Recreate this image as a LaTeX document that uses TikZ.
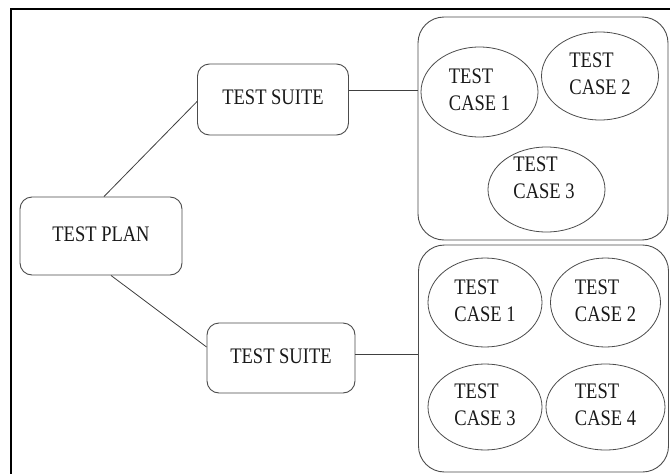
\documentclass[tikz,border=0pt]{standalone}
\usepackage{fontspec}
\usepackage{graphicx}
\setmainfont{Liberation Serif}
\usetikzlibrary{shapes.geometric}
\newcommand{\tx}[1]{\scalebox{1}[1.2]{\begin{tabular}{@{}l@{}}#1\end{tabular}}}
\begin{document}
\begin{tikzpicture}[x=1pt,y=-1pt,
  every node/.style={font=\fontsize{18.5}{22.5}\selectfont, text=black!90},
  boxs/.style={draw=black!70, line width=0.9pt, rounded corners=12pt, inner sep=0pt},
  grp/.style={draw=black!70, line width=0.9pt, rounded corners=26pt, inner sep=0pt},
  ell/.style={draw=black!70, line width=0.8pt, ellipse, inner sep=0pt},
  conn/.style={draw=black!75, line width=0.8pt}]
\useasboundingbox (0,0) rectangle (670,474);
\fill[white] (0,0) rectangle (670,474);
% frame
\draw[line width=2pt, black] (11,474) -- (11,9) -- (670,9);
% nodes
\node[boxs, minimum width=162pt, minimum height=78pt] (plan) at (101,236) {\tx{TEST PLAN}};
\node[boxs, minimum width=151pt, minimum height=71pt] (suite1) at (273,99.5) {\tx{TEST SUITE}};
\node[boxs, minimum width=148pt, minimum height=70pt] (suite2) at (281,358) {\tx{TEST SUITE}};
\node[grp, minimum width=250pt, minimum height=223pt] (group1) at (543,128.5) {};
\node[grp, minimum width=250pt, minimum height=227pt] (group2) at (543.5,358.5) {};
% top ellipses
\node[ell, minimum width=117pt, minimum height=90pt] (a1) at (479.5,92) {\tx{TEST\\CASE 1}};
\node[ell, minimum width=117pt, minimum height=88pt] (a2) at (600,76) {\tx{TEST\\CASE 2}};
\node[ell, minimum width=117pt, minimum height=85pt] (a3) at (546.5,189.5) {};
\node (a3t) at (544,180) {\tx{TEST\\CASE 3}};
% bottom ellipses
\node[ell, minimum width=114pt, minimum height=89pt] (b1) at (485,302.5) {\tx{TEST\\CASE 1}};
\node[ell, minimum width=110pt, minimum height=89pt] (b2) at (605.5,302.5) {\tx{TEST\\CASE 2}};
\node[ell, minimum width=114pt, minimum height=86pt] (b3) at (485,407) {\tx{TEST\\CASE 3}};
\node[ell, minimum width=119pt, minimum height=86pt] (b4) at (605.5,407) {\tx{TEST\\CASE 4}};
% connectors
\coordinate (l1) at (0,90);
\coordinate (l2) at (0,354);
\draw[conn] (plan.north) ++(3pt,0) coordinate (p1) (p1) -- ([yshift=-2pt]suite1.west);
\draw[conn] ([xshift=10pt]plan.south) -- ([yshift=11pt]suite2.west);
\draw[conn] (suite1.east |- l1) -- (group1.west |- l1);
\draw[conn] (suite2.east |- l2) -- (group2.west |- l2);
\end{tikzpicture}
\end{document}
